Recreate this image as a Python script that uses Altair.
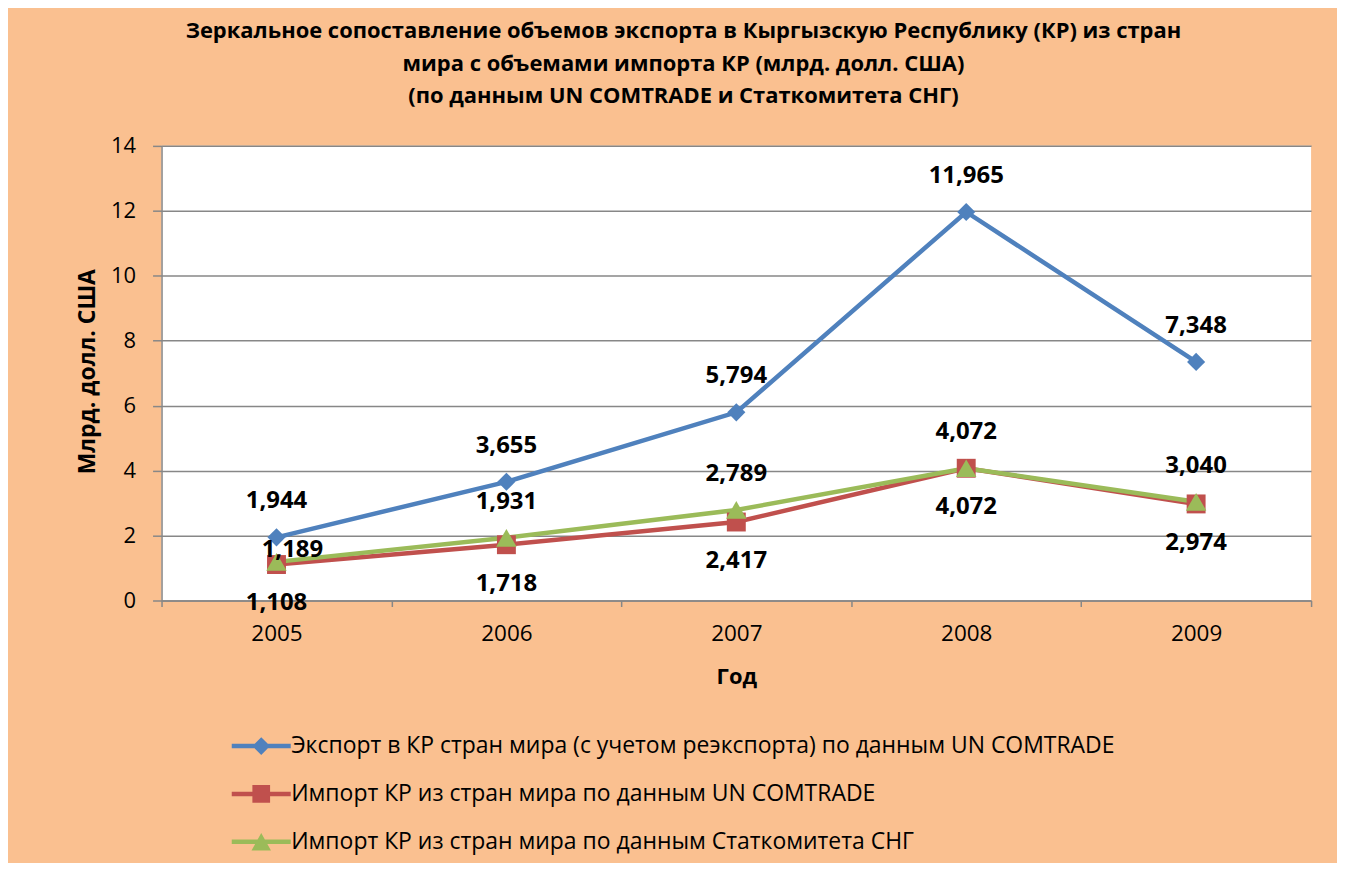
import altair as alt
import pandas as pd

years = ["2005", "2006", "2007", "2008", "2009"]
series_names = [
    "Экспорт в КР стран мира (с учетом реэкспорта) по данным UN COMTRADE",
    "Импорт КР из стран мира по данным UN COMTRADE",
    "Импорт КР из стран мира по данным Статкомитета СНГ",
]
export_un = [1.944, 3.655, 5.794, 11.965, 7.348]
import_un = [1.108, 1.718, 2.417, 4.072, 2.974]
import_cis = [1.189, 1.931, 2.789, 4.072, 3.040]
colors = ["#4F81BD", "#C0504D", "#9BBB59"]
title_lines = [
    "Зеркальное сопоставление объемов экспорта в Кыргызскую Республику (КР) из стран",
    "мира с объемами импорта КР (млрд. долл. США)",
    "(по данным UN COMTRADE и Статкомитета СНГ)",
]
y_ticks = [0, 2, 4, 6, 8, 10, 12, 14]

rows = []
for name, vals in zip(series_names, [export_un, import_un, import_cis]):
    for yr, v in zip(years, vals):
        rows.append({"year": yr, "series": name, "value": v})
df = pd.DataFrame(rows)

FONT = "Open Sans"
GRID = "#878787"

x_enc = alt.X(
    "year:O",
    bandPosition=0.5,
    scale=alt.Scale(type="band", domain=years, paddingInner=0, paddingOuter=0),
    axis=alt.Axis(
        title="Год", tickBand="extent", labelAngle=0, labelFont=FONT, labelFontSize=22.5,
        labelColor="black", labelPadding=16, tickSize=6, tickColor=GRID, tickWidth=1.5,
        domainColor=GRID, domainWidth=1.5, grid=False,
        titleFont=FONT, titleFontSize=22, titleFontWeight="bold", titleColor="black",
        titleY=76, titleBaseline="middle",
    ),
)
y_enc = alt.Y(
    "value:Q",
    scale=alt.Scale(domain=[0, 14], nice=False, zero=True),
    axis=alt.Axis(
        title="Млрд. долл. США", values=y_ticks, labelFont=FONT, labelFontSize=22,
        labelColor="black", labelPadding=17, tickSize=9, tickColor=GRID, tickWidth=1.5,
        domainColor=GRID, domainWidth=1.5, grid=True, gridColor=GRID, gridWidth=1.5,
        titleFont=FONT, titleFontSize=23, titleFontWeight="bold", titleColor="black",
        titleX=-74, titleY=226, titleBaseline="middle", titleAlign="center", titleAngle=270,
    ),
)

base = alt.Chart(df)
shapes = ["diamond", "square", "triangle-up"]
sizes = [330, 360, 420]
dys = [-36, 39, -36]

line_layers = []
point_layers = []
text_layers = []
for i, name in enumerate(series_names):
    sub = base.transform_filter(alt.datum.series == name)
    line_layers.append(
        sub.mark_line(color=colors[i], strokeWidth=4.5).encode(x=x_enc, y=y_enc)
    )
    point_layers.append(
        sub.mark_point(shape=shapes[i], filled=True, color=colors[i], size=sizes[i], opacity=1)
        .encode(x=x_enc, y=y_enc)
    )
    lab = sub.transform_calculate(label="replace(format(datum.value, '.3f'), '.', ',')")
    if i == 2:
        text_layers.append(
            lab.transform_filter(alt.datum.year != "2005")
            .mark_text(font=FONT, fontSize=24, fontWeight="bold", color="black", dy=dys[i], baseline="middle")
            .encode(x=x_enc, y=y_enc, text="label:N")
        )
        text_layers.append(
            lab.transform_filter(alt.datum.year == "2005")
            .mark_text(font=FONT, fontSize=24, fontWeight="bold", color="black", dy=-12, dx=16, baseline="middle")
            .encode(x=x_enc, y=y_enc, text="label:N")
        )
    else:
        text_layers.append(
            lab.mark_text(font=FONT, fontSize=24, fontWeight="bold", color="black", dy=dys[i], baseline="middle")
            .encode(x=x_enc, y=y_enc, text="label:N")
        )

leg_paths = [
    "M-1,-0.075H1V0.075H-1Z M0,-0.3L0.3,0L0,0.3L-0.3,0Z",
    "M-1,-0.075H1V0.075H-1Z M-0.3,-0.3H0.3V0.3H-0.3Z",
    "M-1,-0.075H1V0.075H-1Z M0,-0.3L0.33,0.3L-0.33,0.3Z",
]
legend_def = alt.Legend(
    title=None, orient="none", legendX=70, legendY=572, direction="vertical",
    labelFont=FONT, labelFontSize=23, labelColor="black", labelLimit=0, labelOffset=0,
    symbolSize=3500, symbolStrokeWidth=0, symbolOpacity=1, rowPadding=6, padding=0,
)
legend_layer = (
    base.transform_filter("false")
    .mark_point(filled=True, opacity=1)
    .encode(
        x=x_enc,
        y=y_enc,
        color=alt.Color("series:N", scale=alt.Scale(domain=series_names, range=colors), legend=legend_def),
        shape=alt.Shape("series:N", scale=alt.Scale(domain=series_names, range=leg_paths), legend=legend_def),
    )
)

chart = (
    alt.layer(*line_layers, *point_layers, *text_layers, legend_layer)
    .properties(
        width=1153,
        height=456,
        background="#FAC090",
        padding={"left": 154, "top": 137, "right": 26, "bottom": 262},
        autosize=alt.AutoSizeParams(type="none"),
        title=alt.TitleParams(
            text=title_lines, font=FONT, fontSize=22, fontWeight="bold", color="black",
            lineHeight=32.5, anchor="middle", dx=-53, offset=27,
        ),
    )
    .configure_view(stroke=None, fill="white")
)

chart.save("out.html", embed_options={"renderer": "svg", "actions": False})
